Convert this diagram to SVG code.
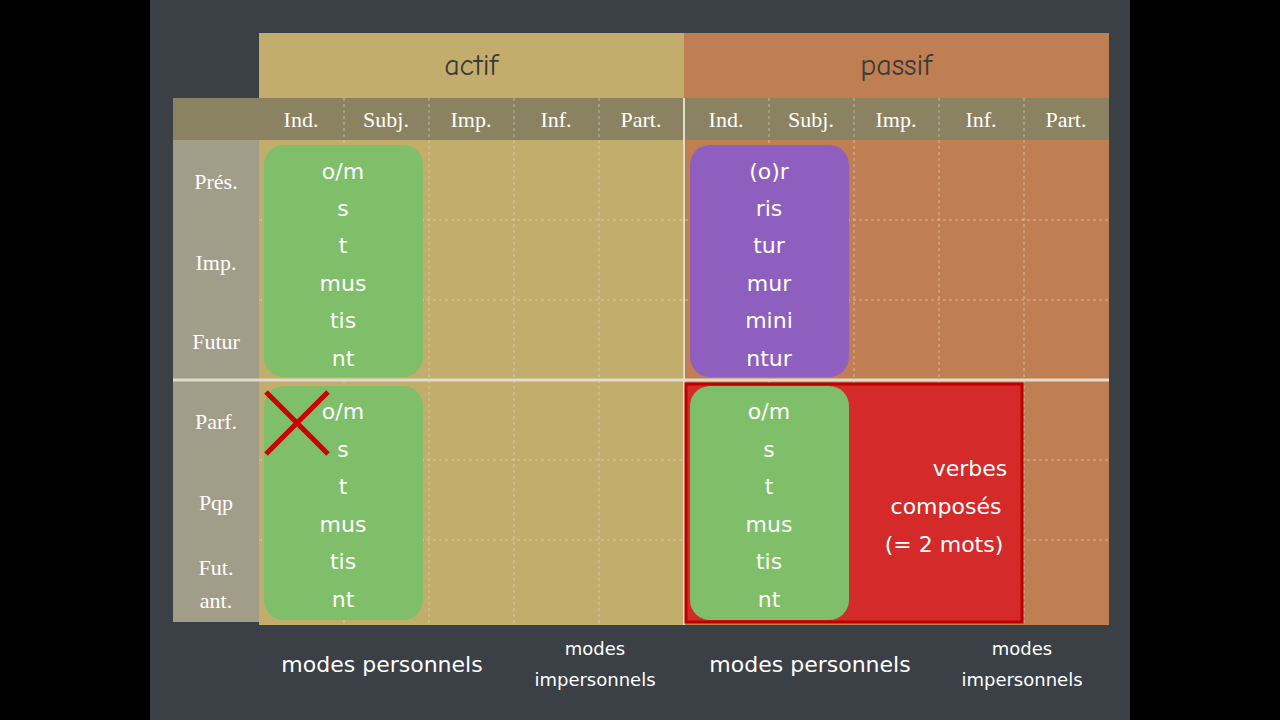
<svg xmlns="http://www.w3.org/2000/svg" width="1280" height="720" viewBox="0 0 1280 720">
<style>
.h{font-family:"Comic Neue","DejaVu Sans",sans-serif;font-size:30px;fill:#3a3a3a;text-anchor:middle}
.c{font-family:"Liberation Serif",serif;font-size:22px;fill:#fff;text-anchor:middle}
.r{font-family:"Liberation Serif",serif;font-size:22px;fill:#fff;text-anchor:middle}
.e{font-family:"DejaVu Sans",sans-serif;font-size:22px;fill:#fff;text-anchor:middle}
.b{font-family:"DejaVu Sans",sans-serif;font-size:22px;fill:#fff;text-anchor:middle}
.s{font-family:"DejaVu Sans",sans-serif;font-size:18px;fill:#fff;text-anchor:middle}
.g{stroke:#e8e0c8;stroke-width:1;stroke-dasharray:3 3;opacity:0.6}
</style>
<rect width="1280" height="720" fill="#000"/>
<rect x="150" y="0" width="980" height="720" fill="#3b4046"/>
<g id="headers">
<rect x="259" y="33" width="425" height="65" fill="#c3ad6c"/>
<rect x="684" y="33" width="425" height="65" fill="#c07f52"/>
<text class="h" x="471" y="75">actif</text>
<text class="h" x="896" y="75">passif</text>
</g>
<rect x="173" y="98" width="936" height="42" fill="#8b8262"/>
<rect x="173" y="140" width="86" height="482" fill="#a29d89"/>
<rect x="259" y="140" width="425" height="485" fill="#c3ad6c"/>
<rect x="684" y="140" width="425" height="485" fill="#c07f52"/>
<g id="grid">
<line class="g" x1="344" y1="98" x2="344" y2="625"/><line class="g" x1="429" y1="98" x2="429" y2="625"/>
<line class="g" x1="514" y1="98" x2="514" y2="625"/><line class="g" x1="599" y1="98" x2="599" y2="625"/>
<line class="g" x1="769" y1="98" x2="769" y2="625"/><line class="g" x1="854" y1="98" x2="854" y2="625"/>
<line class="g" x1="939" y1="98" x2="939" y2="625"/><line class="g" x1="1024" y1="98" x2="1024" y2="625"/>
<line class="g" x1="259" y1="220" x2="1109" y2="220"/><line class="g" x1="259" y1="300" x2="1109" y2="300"/>
<line class="g" x1="259" y1="460" x2="1109" y2="460"/><line class="g" x1="259" y1="540" x2="1109" y2="540"/>
<line x1="684" y1="98" x2="684" y2="625" stroke="#e0dccc" stroke-width="2"/>
<line x1="173" y1="380" x2="1109" y2="380" stroke="#e0dccc" stroke-width="3"/>
</g>
<g id="colheads">
<text class="c" x="301" y="127">Ind.</text><text class="c" x="386" y="127">Subj.</text><text class="c" x="471" y="127">Imp.</text><text class="c" x="556" y="127">Inf.</text><text class="c" x="641" y="127">Part.</text>
<text class="c" x="726" y="127">Ind.</text><text class="c" x="811" y="127">Subj.</text><text class="c" x="896" y="127">Imp.</text><text class="c" x="981" y="127">Inf.</text><text class="c" x="1066" y="127">Part.</text>
</g>
<g id="rowheads">
<text class="r" x="216" y="189">Prés.</text><text class="r" x="216" y="270">Imp.</text><text class="r" x="216" y="349">Futur</text>
<text class="r" x="216" y="429">Parf.</text><text class="r" x="216" y="510">Pqp</text><text class="r" x="216" y="575">Fut.</text><text class="r" x="216" y="608">ant.</text>
</g>
<g id="red"><rect x="686" y="384" width="336" height="238" fill="#d42a2a" stroke="#c00000" stroke-width="3"/>
<text class="b" x="970" y="476">verbes</text><text class="b" x="946" y="514">composés</text><text class="b" x="944" y="552">(= 2 mots)</text></g>
<g id="box1"><rect x="264" y="145" width="159" height="232" rx="20" fill="#7fbf6a"/>
<text class="e" x="343" y="179">o/m</text><text class="e" x="343" y="216">s</text><text class="e" x="343" y="253">t</text><text class="e" x="343" y="291">mus</text><text class="e" x="343" y="328">tis</text><text class="e" x="343" y="366">nt</text></g>
<g id="box2"><rect x="264" y="386" width="159" height="234" rx="20" fill="#7fbf6a"/>
<text class="e" x="343" y="419">o/m</text><text class="e" x="343" y="457">s</text><text class="e" x="343" y="494">t</text><text class="e" x="343" y="532">mus</text><text class="e" x="343" y="569">tis</text><text class="e" x="343" y="607">nt</text>
<path d="M266 392L328 454M328 392L266 454" stroke="#cc0000" stroke-width="5"/></g>
<g id="box3"><rect x="690" y="145" width="159" height="232" rx="20" fill="#8f5fc0"/>
<text class="e" x="769" y="179">(o)r</text><text class="e" x="769" y="216">ris</text><text class="e" x="769" y="253">tur</text><text class="e" x="769" y="291">mur</text><text class="e" x="769" y="328">mini</text><text class="e" x="769" y="366">ntur</text></g>
<g id="box4"><rect x="690" y="386" width="159" height="234" rx="20" fill="#7fbf6a"/>
<text class="e" x="769" y="419">o/m</text><text class="e" x="769" y="457">s</text><text class="e" x="769" y="494">t</text><text class="e" x="769" y="532">mus</text><text class="e" x="769" y="569">tis</text><text class="e" x="769" y="607">nt</text></g>
<g id="bottom">
<text class="b" x="382" y="672">modes personnels</text><text class="s" x="595" y="655">modes</text><text class="s" x="595" y="686">impersonnels</text>
<text class="b" x="810" y="672">modes personnels</text><text class="s" x="1022" y="655">modes</text><text class="s" x="1022" y="686">impersonnels</text>
</g>
</svg>
